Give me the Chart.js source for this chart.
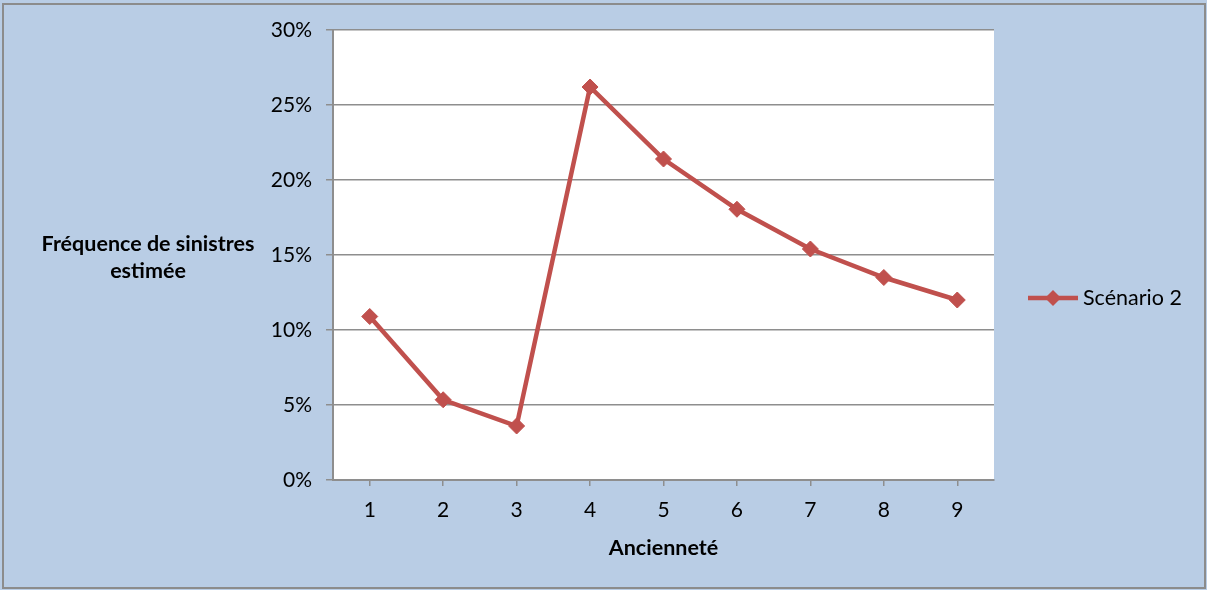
<!DOCTYPE html>
<html>
<head>
<meta charset="utf-8">
<script src="https://cdn.jsdelivr.net/npm/chart.js@4/dist/chart.umd.min.js"></script>
<style>
  html, body { margin: 0; padding: 0; background: #b9cde5; }
  #wrap { width: 1207px; height: 590px; }
</style>
</head>
<body>
<div id="wrap"><canvas id="c" width="1207" height="590"></canvas></div>
<script>
const categories = ['1', '2', '3', '4', '5', '6', '7', '8', '9'];
const scenario2 = [10.9, 5.35, 3.6, 26.2, 21.4, 18.05, 15.4, 13.5, 12.0];
const yTicks = [0, 5, 10, 15, 20, 25, 30];
const seriesLabel = 'Scénario 2';
const yTitleLines = ['Fréquence de sinistres', 'estimée'];
const xTitle = 'Ancienneté';

const FONT = 'Lato, "Open Sans", sans-serif';
const RED = '#c0504d';
const GRID = '#8e8e8e';

// background, frame, white plot area, y title and legend
const decor = {
  id: 'decor',
  beforeDraw(chart) {
    const { ctx, chartArea: a, width, height } = chart;
    ctx.save();
    ctx.fillStyle = '#b9cde5';
    ctx.fillRect(0, 0, width, height);
    ctx.strokeStyle = '#8c8c8c';
    ctx.lineWidth = 2;
    ctx.strokeRect(3, 4, width - 5, height - 6);
    ctx.fillStyle = '#fff';
    ctx.fillRect(a.left, a.top, a.right - a.left, a.bottom - a.top);
    ctx.restore();
  },
  afterDraw(chart) {
    const { ctx } = chart;
    ctx.save();
    ctx.fillStyle = '#000';
    ctx.font = 'bold 21.5px ' + FONT;
    ctx.textAlign = 'center';
    ctx.textBaseline = 'middle';
    yTitleLines.forEach((t, i) => ctx.fillText(t, 148, 244 + i * 27));

    // legend
    const ly = 298;
    ctx.strokeStyle = RED;
    ctx.lineWidth = 4.5;
    ctx.beginPath();
    ctx.moveTo(1028, ly);
    ctx.lineTo(1078, ly);
    ctx.stroke();
    ctx.fillStyle = RED;
    ctx.beginPath();
    ctx.moveTo(1053, ly - 8);
    ctx.lineTo(1061, ly);
    ctx.lineTo(1053, ly + 8);
    ctx.lineTo(1045, ly);
    ctx.closePath();
    ctx.fill();
    ctx.fillStyle = '#000';
    ctx.font = '21.5px ' + FONT;
    ctx.textAlign = 'left';
    ctx.fillText(chart.data.datasets[0].label, 1083, ly);
    ctx.restore();
  }
};

new Chart(document.getElementById('c'), {
  type: 'line',
  data: {
    labels: categories,
    datasets: [{
      label: seriesLabel,
      data: scenario2,
      borderColor: RED,
      backgroundColor: RED,
      borderWidth: 4.5,
      pointStyle: 'rectRot',
      pointRadius: 8,
      pointBorderWidth: 1,
      tension: 0
    }]
  },
  options: {
    responsive: false,
    animation: false,
    layout: { padding: { top: 30, right: 213, bottom: 29, left: 0 } },
    plugins: { legend: { display: false }, tooltip: { enabled: false } },
    scales: {
      x: {
        offset: true,
        afterFit: s => { s.height = 81; },
        grid: { offset: false, drawOnChartArea: false, drawTicks: true, tickLength: 6, color: GRID, lineWidth: 1.5 },
        border: { display: true, color: GRID, width: 2 },
        ticks: { color: '#000', font: { family: FONT, size: 21 }, padding: 12 },
        title: { display: true, text: xTitle, color: '#000', font: { family: FONT, size: 21.5, weight: 'bold' }, padding: 0 }
      },
      y: {
        min: 0,
        max: 30,
        afterFit: s => { s.width = 333; },
        afterBuildTicks: s => { s.ticks = yTicks.map(v => ({ value: v })); },
        grid: { color: GRID, lineWidth: 1.5, drawTicks: true, tickLength: 7 },
        border: { display: true, color: GRID, width: 2 },
        ticks: { color: '#000', font: { family: FONT, size: 21 }, padding: 14, callback: v => v + '%' }
      }
    }
  },
  plugins: [decor]
});
</script>
</body>
</html>
